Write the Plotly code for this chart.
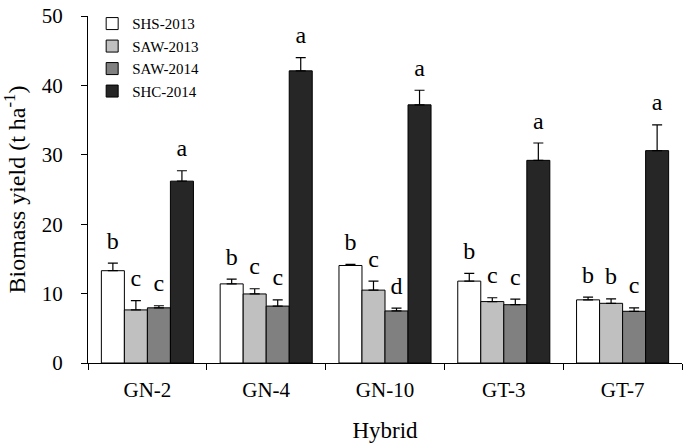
"""Biomass yield by hybrid and season, grouped bars with upper error bars."""

import plotly.graph_objects as go

HYBRIDS = ["GN-2", "GN-4", "GN-10", "GT-3", "GT-7"]

SERIES = ["SHS-2013", "SAW-2013", "SAW-2014", "SHC-2014"]
COLORS = ["#ffffff", "#c0c0c0", "#808080", "#262626"]

# mean biomass yield (t/ha)
SHS_2013 = [13.3, 11.4, 14.05, 11.8, 9.1]
SAW_2013 = [7.65, 9.95, 10.5, 8.85, 8.6]
SAW_2014 = [7.95, 8.2, 7.5, 8.4, 7.45]
SHC_2014 = [26.2, 42.1, 37.2, 29.2, 30.6]

# upper error (t/ha)
SHS_2013_ERR = [1.1, 0.7, 0.15, 1.1, 0.4]
SAW_2013_ERR = [1.35, 0.75, 1.3, 0.55, 0.65]
SAW_2014_ERR = [0.3, 0.9, 0.4, 0.8, 0.5]
SHC_2014_ERR = [1.5, 1.9, 2.1, 2.5, 3.7]

# significance letters
SHS_2013_LET = ["b", "b", "b", "b", "b"]
SAW_2013_LET = ["c", "c", "c", "c", "b"]
SAW_2014_LET = ["c", "c", "d", "c", "c"]
SHC_2014_LET = ["a", "a", "a", "a", "a"]

VALUES = [SHS_2013, SAW_2013, SAW_2014, SHC_2014]
ERRORS = [SHS_2013_ERR, SAW_2013_ERR, SAW_2014_ERR, SHC_2014_ERR]
LETTERS = [SHS_2013_LET, SAW_2013_LET, SAW_2014_LET, SHC_2014_LET]

FONT = "Liberation Serif, Times New Roman, serif"
GAP = 0.225

fig = go.Figure()

for name, color, vals, errs in zip(SERIES, COLORS, VALUES, ERRORS):
    fig.add_trace(go.Bar(
        x=HYBRIDS, y=vals, name=name, offsetgroup=name,
        marker=dict(color=color, line=dict(color="black", width=1)),
        error_y=dict(type="data", symmetric=False, array=errs,
                     arrayminus=[0] * len(errs), color="black",
                     thickness=1.2, width=5),
    ))

# letters above error bars, grouped the same way as the bars
# (invisible marker just pushes the text up a little)
for name, vals, errs, lets in zip(SERIES, VALUES, ERRORS, LETTERS):
    fig.add_trace(go.Scatter(
        x=HYBRIDS, y=[v + e for v, e in zip(vals, errs)],
        mode="markers+text", text=lets, textposition="top center",
        marker=dict(size=12, color="rgba(0,0,0,0)"),
        textfont=dict(family=FONT, size=24, color="black"),
        offsetgroup=name, showlegend=False, hoverinfo="skip",
        cliponaxis=False,
    ))

fig.update_layout(
    width=686, height=447,
    margin=dict(l=88, r=4, t=10, b=84),
    barmode="group", bargap=GAP, bargroupgap=0,
    scattermode="group", scattergap=GAP,
    plot_bgcolor="white", paper_bgcolor="white",
    font=dict(family=FONT, size=21, color="black"),
    showlegend=True,
    legend=dict(x=0.007, y=1.025, xanchor="left", yanchor="top",
                bgcolor="rgba(0,0,0,0)", font=dict(size=15),
                tracegroupgap=0, itemwidth=30),
)

fig.update_xaxes(
    title=dict(text="Hybrid", font=dict(size=23), standoff=20),
    showline=True, linecolor="black", linewidth=1,
    ticks="outside", tickson="boundaries", ticklen=6, tickcolor="black",
    showgrid=False, ticklabelstandoff=8,
)

fig.update_yaxes(
    title=dict(text="Biomass yield (t ha<sup>-1</sup>)", font=dict(size=24), standoff=14),
    range=[0, 50], dtick=10,
    showline=True, linecolor="black", linewidth=1,
    ticks="outside", ticklen=6, tickcolor="black",
    showgrid=False, zeroline=False, ticklabelstandoff=14,
    ticklabeloverflow="allow",
)

# drop the browser's default 8px body margin so the figure fills the window
fig.write_html("out.html", config={"displayModeBar": False},
               post_script="document.body.style.margin = '0';")
